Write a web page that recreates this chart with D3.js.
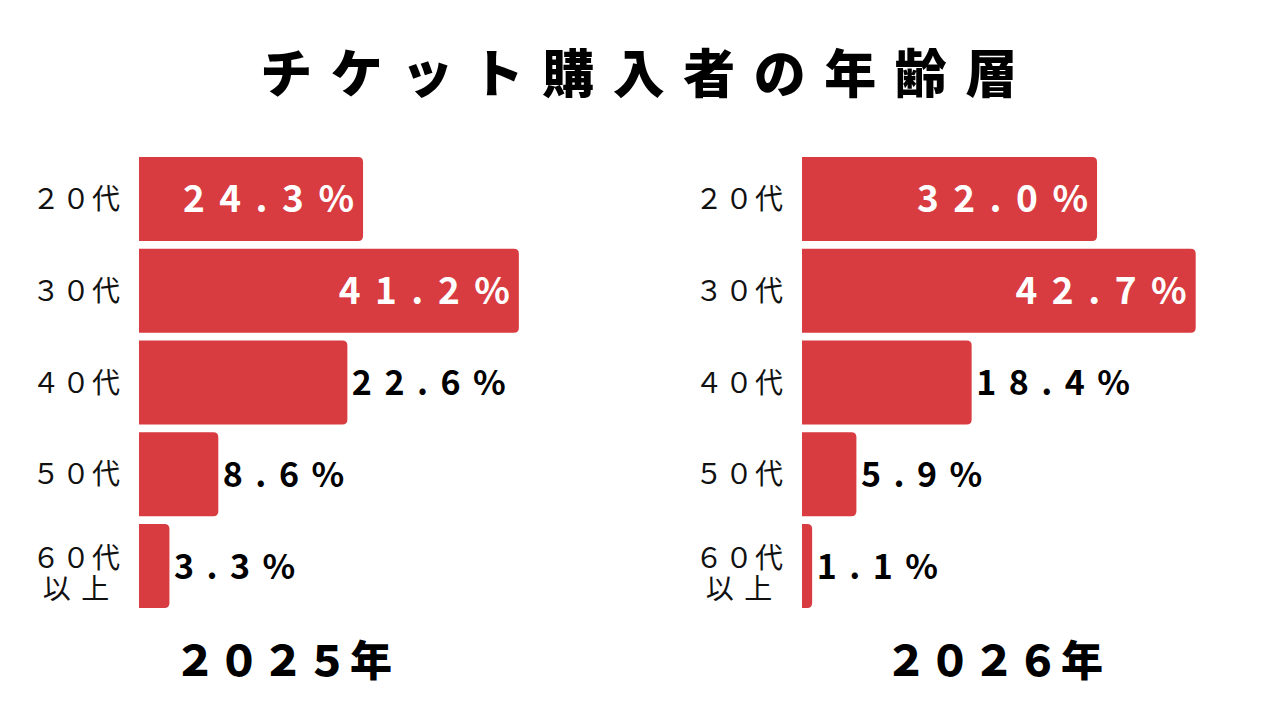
<!DOCTYPE html>
<html>
<head>
<meta charset="utf-8">
<script src="https://cdn.jsdelivr.net/npm/d3@7"></script>
<style>
  body { margin: 0; background: #fff; }
  svg { display: block; }
  text { font-family: "Noto Sans CJK JP", "Noto Sans", sans-serif; }
</style>
</head>
<body>
<svg width="1280" height="720"></svg>
<script>
var title = "チケット購入者の年齢層";
var categories = ["２０代", "３０代", "４０代", "５０代", "６０代\n以 上"];
var values2025 = [24.3, 41.2, 22.6, 8.6, 3.3];
var values2026 = [32.0, 42.7, 18.4, 5.9, 1.1];
var years = ["２０２５年", "２０２６年"];

var barColor = "#d83b40";

var svg = d3.select("svg");

svg.append("text")
    .attr("x", 648)
    .attr("y", 93)
    .attr("text-anchor", "middle")
    .attr("font-size", 52)
    .attr("font-weight", 900)
    .attr("letter-spacing", 18.5)
    .attr("fill", "#000")
    .text(title);

var x = d3.scaleLinear().domain([0, 50]).range([0, 461]);
var y = d3.scaleBand().domain(categories).range([157, 608]).paddingInner(0.085).paddingOuter(0);

function barPath(x0, y0, w, h, r) {
    r = Math.min(r, w);
    return "M" + x0 + "," + y0 +
        "H" + (x0 + w - r) +
        "Q" + (x0 + w) + "," + y0 + " " + (x0 + w) + "," + (y0 + r) +
        "V" + (y0 + h - r) +
        "Q" + (x0 + w) + "," + (y0 + h) + " " + (x0 + w - r) + "," + (y0 + h) +
        "H" + x0 + "Z";
}

function inside(d) { return d.value >= 24; }

function drawPanel(left, values, year, yearX) {
    var g = svg.append("g").attr("transform", "translate(" + left + ",0)");
    var rows = categories.map(function(c, i) { return {cat: c, value: values[i]}; });

    g.selectAll(".bar")
        .data(rows)
        .enter().append("path")
        .attr("class", "bar")
        .attr("fill", barColor)
        .attr("d", function(d) { return barPath(0, y(d.cat), x(d.value), y.bandwidth(), 5); });

    var cat = g.selectAll(".cat")
        .data(rows)
        .enter().append("text")
        .attr("class", "cat")
        .attr("font-size", 28)
        .attr("letter-spacing", 2)
        .attr("fill", "#111");

    cat.each(function(d) {
        var t = d3.select(this);
        var lines = d.cat.split("\n");
        var cy = y(d.cat) + y.bandwidth() / 2;
        if (lines.length === 1) {
            t.attr("x", -17).attr("y", cy + 10).attr("text-anchor", "end").text(lines[0]);
        } else {
            var first = t.append("tspan").attr("x", -17).attr("y", cy + 2)
                .attr("text-anchor", "end").text(lines[0]);
            var w = first.node().getComputedTextLength();
            t.append("tspan").attr("x", -17 - w / 2).attr("y", cy + 33)
                .attr("text-anchor", "middle").text(lines[1]);
        }
    });

    g.selectAll(".val")
        .data(rows)
        .enter().append("text")
        .attr("class", "val")
        .attr("font-family", "'DejaVu Sans', sans-serif")
        .attr("font-weight", 700)
        .attr("font-size", function(d) { return inside(d) ? 37 : 34; })
        .attr("letter-spacing", function(d) { return inside(d) ? 14.5 : 12.5; })
        .attr("y", function(d) { return y(d.cat) + y.bandwidth() / 2 + (inside(d) ? 13.5 : 12.5); })
        .attr("x", function(d) { return inside(d) ? x(d.value) - 9 + 14.5 : x(d.value) + 4.5; })
        .attr("text-anchor", function(d) { return inside(d) ? "end" : "start"; })
        .attr("fill", function(d) { return inside(d) ? "#fff" : "#000"; })
        .text(function(d) { return d.value.toFixed(1) + "%"; });

    svg.append("text")
        .attr("x", yearX)
        .attr("y", 676)
        .attr("text-anchor", "middle")
        .attr("font-size", 42)
        .attr("font-weight", 900)
        .attr("letter-spacing", 2)
        .attr("fill", "#000")
        .text(year);
}

drawPanel(139, values2025, years[0], 284);
drawPanel(802, values2026, years[1], 995);
</script>
</body>
</html>
